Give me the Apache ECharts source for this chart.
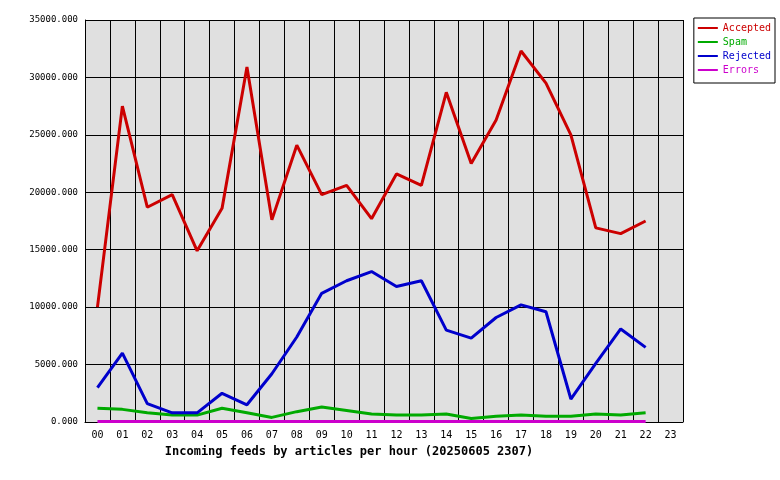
<!DOCTYPE html><html><head><meta charset="utf-8">
<script src="https://cdn.jsdelivr.net/npm/echarts@6/dist/echarts.min.js"></script>
<style>body{margin:0;background:#fff}#c{width:780px;height:480px}</style></head><body><div id="c"></div>
<script>
var hours=['00','01','02','03','04','05','06','07','08','09','10','11','12','13','14','15','16','17','18','19','20','21','22','23'];
var accepted=[10000,27500,18700,19800,14900,18600,30900,17600,24100,19800,20600,17700,21600,20600,28700,22500,26300,32300,29500,25000,16900,16400,17500];
var spam=[1200,1100,800,600,600,1200,800,400,900,1300,1000,700,600,600,700,300,500,600,500,500,700,600,800];
var rejected=[3000,6000,1600,800,800,2500,1500,4200,7400,11200,12300,13100,11800,12300,8000,7300,9100,10200,9600,2000,5100,8100,6500];
var errors=[50,50,50,50,50,50,50,50,50,50,50,50,50,50,50,50,50,50,50,50,50,50,50];
var F='DejaVu Sans Mono';
function s(n,d,c){return {name:n,type:'line',data:d,symbol:'none',lineStyle:{color:c,width:3},itemStyle:{color:c},animation:false};}
var ch=echarts.init(document.getElementById('c'));
ch.setOption({
 textStyle:{fontFamily:F},
 grid:{left:85,right:97,top:20,bottom:58},
 xAxis:{type:'category',data:hours,boundaryGap:true,name:'Incoming feeds by articles per hour (20250605 2307)',nameLocation:'middle',nameGap:24,
  nameTextStyle:{fontFamily:F,fontSize:12,fontWeight:'bold',color:'#000',padding:[0,0,0,-70]},
  axisLine:{lineStyle:{color:'#000'}},axisTick:{show:false},
  axisLabel:{color:'#000',fontFamily:F,fontSize:10,margin:8},
  splitLine:{show:true,interval:0,lineStyle:{color:'#000'}},
  splitArea:{show:false}},
 yAxis:{type:'value',min:0,max:35000,interval:5000,
  axisLine:{show:true,lineStyle:{color:'#000'}},axisTick:{show:false},
  axisLabel:{color:'#000',fontFamily:F,fontSize:9,margin:7,formatter:function(v){return v.toFixed(3);}},
  splitLine:{lineStyle:{color:'#000'}}},
 legend:{right:5,top:18,orient:'vertical',itemGap:4,itemWidth:20,itemHeight:2,backgroundColor:'#fff',borderColor:'#000',borderWidth:1,padding:[5,4,8,4],
  textStyle:{fontFamily:F,fontSize:10},icon:'rect',
  data:[{name:'Accepted',textStyle:{color:'#cc0000'}},{name:'Spam',textStyle:{color:'#00aa00'}},{name:'Rejected',textStyle:{color:'#0000cc'}},{name:'Errors',textStyle:{color:'#cc00cc'}}]},
 series:[s('Accepted',accepted,'#cc0000'),s('Spam',spam,'#00aa00'),s('Rejected',rejected,'#0000cc'),s('Errors',errors,'#cc00cc')]
});
ch.getZr().add(new echarts.graphic.Rect({shape:{x:85,y:20,width:598,height:402},style:{fill:'#e0e0e0'},z:-1,silent:true}));
</script></body></html>
